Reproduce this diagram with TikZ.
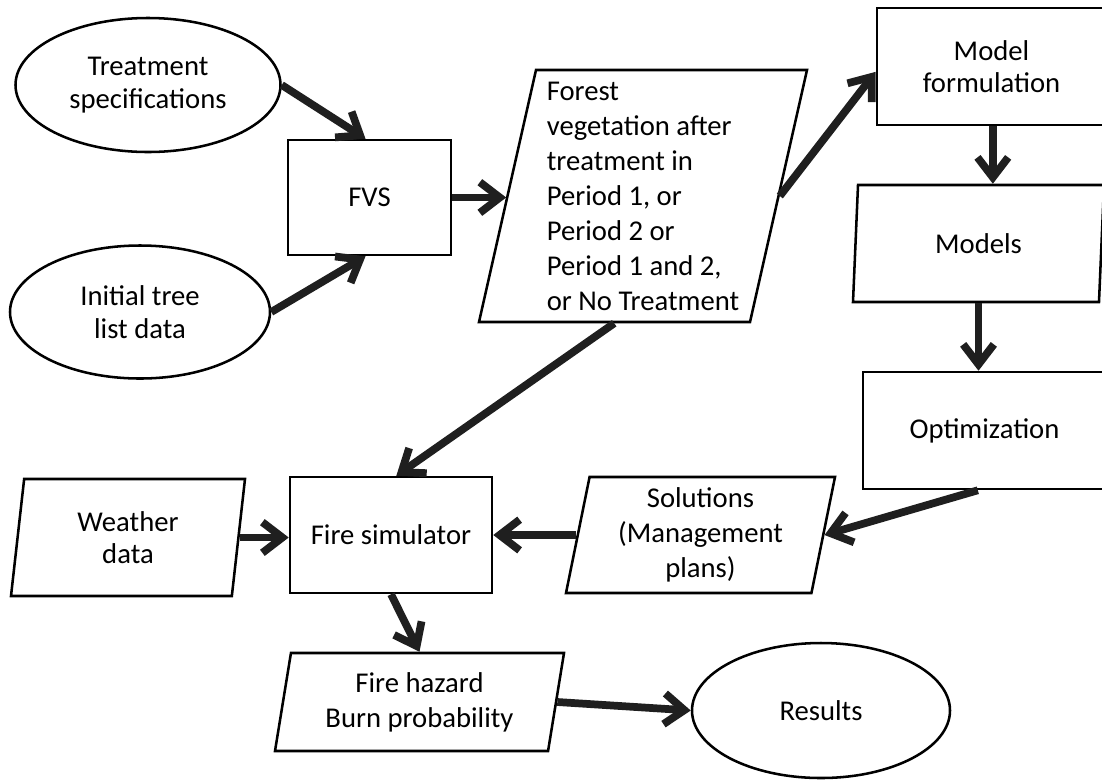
\documentclass[tikz,border=0pt]{standalone}
\usepackage{fontspec}
\setmainfont{Carlito}
\usetikzlibrary{shapes.geometric,arrows.meta,calc}
\begin{document}
\begin{tikzpicture}[x=0.75pt,y=-0.75pt,
  base/.style={draw=black, line width=1.9pt, inner sep=0pt, align=center, font=\fontsize{21.5pt}{26.25pt}\selectfont},
  tight/.style={font=\fontsize{21.5pt}{24.5pt}\selectfont},
  oval/.style={base, ellipse},
  box/.style={base, rectangle},
  para/.style={base, trapezium, trapezium left angle=76, trapezium right angle=104, trapezium stretches body},
  arr/.style={line width=5.8pt, draw=black!88, -{Straight Barb[length=15pt,width=23pt]}}]
\useasboundingbox (0,0) rectangle (1102,779);

\node[oval, tight, minimum width=198.75pt, minimum height=100.5pt] (treat) at (148,85) {Treatment\\specifications};
\node[oval, tight, minimum width=195pt, minimum height=99.75pt] (init) at (140,312) {Initial tree\\list data};
\node[box, minimum width=122.25pt, minimum height=86.25pt] (fvs) at (369.5,197.5) {FVS};
\node[para, align=left, minimum width=246pt, minimum height=189pt] (forest) at (643,196) {Forest\\vegetation after\\treatment in\\Period 1, or\\Period 2 or\\Period 1 and 2,\\or No Treatment};
\node[box, tight, minimum width=171.75pt, minimum height=87.75pt] (model) at (991.5,66.5) {Model\\formulation};
\node[para, minimum width=188.25pt, minimum height=87.75pt] (models) at (978.5,243.5) {Models};
\node[box, minimum width=182.25pt, minimum height=87.75pt] (optim) at (984.5,430.5) {Optimization};
\node[para, minimum width=201.75pt, minimum height=87pt] (sol) at (700.5,535) {Solutions\\(Management\\plans)};
\node[box, minimum width=151.5pt, minimum height=87pt] (fire) at (391,535) {Fire simulator};
\node[para, tight, minimum width=175.5pt, minimum height=87.75pt] (weather) at (128,537.5) {Weather\\data};
\node[para, trapezium left angle=75, trapezium right angle=105, minimum width=216.75pt, minimum height=73.5pt] (hazard) at (419.5,702) {Fire hazard\\Burn probability};
\node[oval, minimum width=193.5pt, minimum height=101.25pt] (results) at (821,710.5) {Results};

\draw[arr] (treat.east) -- ([xshift=-3pt]fvs.north);
\draw[arr] (init.east) -- ([xshift=-3pt]fvs.south);
\draw[arr] (fvs.east) -- (fvs.east -| forest.left side);
\draw[arr] (forest.right side) -- ([yshift=-4pt]model.west);
\draw[arr] ([xshift=1pt]model.south) -- ([xshift=1pt]model.south |- models.top side);
\draw[arr] (models.center |- models.bottom side) -- (models.center |- optim.north);
\draw[arr] ([xshift=-5pt]optim.south) -- (sol.right side);
\draw[arr] (sol.left side) -- (sol.left side -| fire.east);
\draw[arr] (weather.right side) -- (weather.right side -| fire.west);
\draw[arr] (forest.bottom side) -- ([xshift=4pt]fire.north);
\draw[arr] (fire.south) -- (hazard.center |- hazard.top side);
\draw[arr] (hazard.right side) -- (results.west);
\end{tikzpicture}
\end{document}
